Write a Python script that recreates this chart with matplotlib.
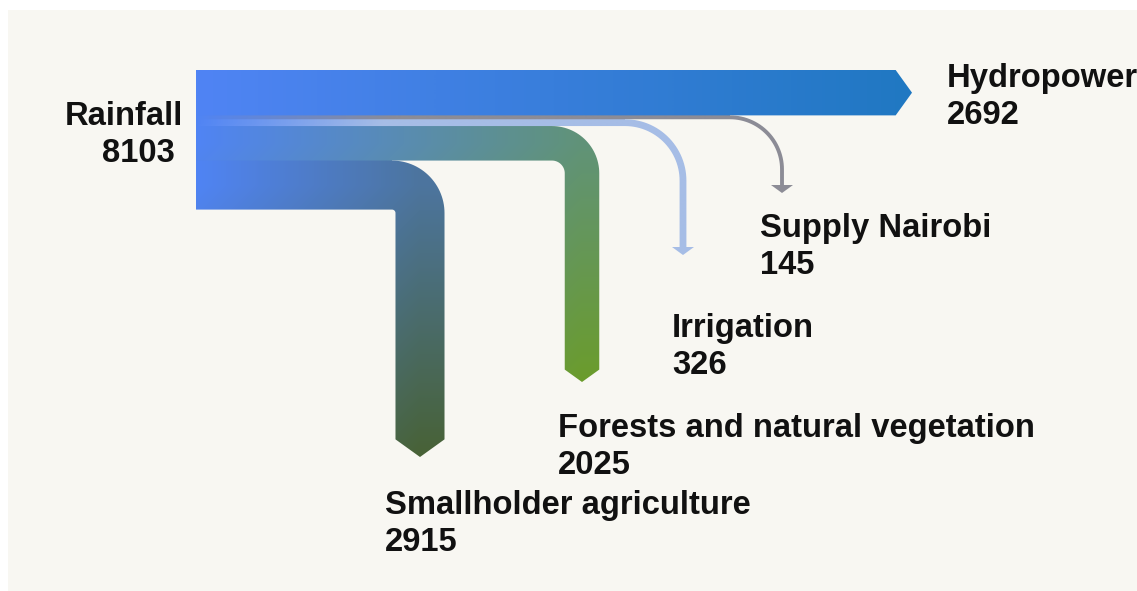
import numpy as np
import matplotlib.pyplot as plt
from matplotlib.patches import Polygon, Rectangle
from matplotlib.colors import LinearSegmentedColormap

# data
source = "Rainfall"
source_value = 8103
targets = ["Hydropower", "Supply Nairobi", "Irrigation",
           "Forests and natural vegetation", "Smallholder agriculture"]
values = [2692, 145, 326, 2025, 2915]

# colours
start_color = "#5084f4"
end_colors = ["#2078c2", "#8c8c96", "#a6bde6", "#6b9c2c", "#486236"]
fast_fade = [False, True, True, False, False]

# layout (pixel space of the figure)
W, H = 1137, 591
X0, Y0 = 196, 70
scale = 0.0163
pad = 1.5
turn_x = [None, 782, 683, 582, 420]
tip_pos = [912, 193, 255, 382, 457]
radius = [0, 52, 58, 30, 28]
label_xy = [(947, 87), (760, 237), (672, 337), (558, 437), (385, 514)]
line_gap = 37

plt.rcParams['font.family'] = ['Liberation Sans', 'DejaVu Sans']

fig = plt.figure(figsize=(W / 100, H / 100), dpi=100)
fig.patch.set_facecolor("white")
ax = fig.add_axes([0, 0, 1, 1])
ax.set_xlim(0, W)
ax.set_ylim(H, 0)
ax.axis("off")

ax.add_patch(Rectangle((8, 10), W - 8, H - 10, facecolor="#f8f7f2",
                       edgecolor="none", zorder=0))


def arc(cx, cy, r, th0, th1, n=30):
    th = np.linspace(th0, th1, n)
    return [(cx + r * np.sin(t), cy - r * np.cos(t)) for t in th]


def flow_shape(i, top, w, extra=0.0, lip_end=None):
    # a thin lip under the band (up to lip_end) hides the seam with the next flow
    yc = top + w / 2
    hw = max(w / 2, 11)
    hl = 0.72 * hw if w / 2 >= 11 else 8
    bot = top + w
    if turn_x[i] is None:
        xe = tip_pos[i] - hl
        le = xe if lip_end is None else min(lip_end, xe)
        pts = [(X0, top), (xe, top), (xe, yc - hw), (tip_pos[i], yc),
               (xe, yc + hw), (xe, bot), (le, bot), (le, bot + extra),
               (X0, bot + extra)]
        return pts, yc
    xv, r = turn_x[i], radius[i]
    ye = tip_pos[i] - hl
    cx, cy = xv - r, yc + r
    pts = [(X0, top)]
    pts += arc(cx, cy, r + w / 2, 0, np.pi / 2)
    pts += [(xv + w / 2, ye), (xv + hw, ye), (xv, tip_pos[i]),
            (xv - hw, ye), (xv - w / 2, ye)]
    ri = r - w / 2
    if ri > 0:
        pts += arc(cx, cy, ri, np.pi / 2, 0)
        corner_x = cx
    else:
        pts += [(xv - w / 2, bot)]
        corner_x = xv - w / 2
    le = corner_x if lip_end is None else min(lip_end, corner_x)
    pts += [(le, bot), (le, bot + extra), (X0, bot + extra)]
    return pts, yc


top = Y0
n = len(values)
for i, v in enumerate(values):
    w = v * scale + pad
    if i < n - 1:
        lip = turn_x[i + 1] - radius[i + 1]
        pts, yc = flow_shape(i, top, w, extra=1.0, lip_end=lip)
    else:
        pts, yc = flow_shape(i, top, w)
    poly = Polygon(pts, closed=True, facecolor="none", edgecolor="none")
    ax.add_patch(poly)

    arr = np.array(pts)
    xmin, ymin = arr.min(axis=0)
    xmax, ymax = arr.max(axis=0)
    xs = np.arange(np.floor(xmin), np.ceil(xmax) + 1)
    ys = np.arange(np.floor(ymin), np.ceil(ymax) + 1)
    X, Y = np.meshgrid(xs, ys)
    if turn_x[i] is None:
        t = (X - X0) / (tip_pos[i] - X0)
    else:
        lh = turn_x[i] - X0
        L = lh + (tip_pos[i] - yc)
        t = (np.clip(X - X0, 0, lh) + np.clip(Y - yc, 0, None)) / L
    t = np.clip(t, 0, 1)

    if fast_fade[i]:
        cmap = LinearSegmentedColormap.from_list(
            "f%d" % i, [(0, start_color), (0.3, end_colors[i]), (1, end_colors[i])])
    else:
        cmap = LinearSegmentedColormap.from_list("f%d" % i, [start_color, end_colors[i]])

    im = ax.imshow(t, cmap=cmap, vmin=0, vmax=1, origin="upper",
                   extent=(xs[0], xs[-1], ys[-1], ys[0]), aspect="auto",
                   interpolation="bilinear", zorder=2 + i * 0.01)
    im.set_clip_path(poly)
    top += w

ax.set_xlim(0, W)
ax.set_ylim(H, 0)

# labels
txt = dict(fontsize=23.6, fontweight="bold", color="#111111", va="baseline", ha="left")
ax.text(65, 125, source, **txt)
ax.text(102, 125 + line_gap, str(source_value), **txt)
for (lx, ly), name, v in zip(label_xy, targets, values):
    ax.text(lx, ly, name, **txt)
    ax.text(lx, ly + line_gap, str(v), **txt)

fig.savefig("out.png", dpi=100, facecolor=fig.get_facecolor())
